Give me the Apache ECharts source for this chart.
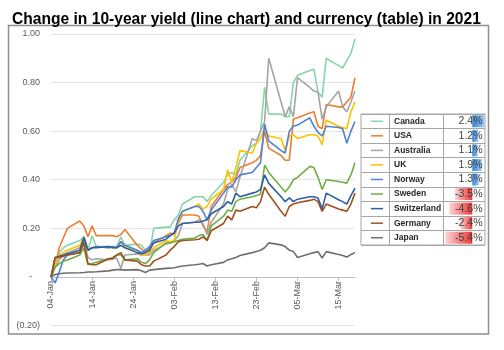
<!DOCTYPE html>
<html>
<head>
<meta charset="utf-8">
<script src="https://cdn.jsdelivr.net/npm/echarts@6/dist/echarts.min.js"></script>
<style>
html, body { margin: 0; padding: 0; background: #fff; }
#chart { width: 504px; height: 350px; }
</style>
</head>
<body>
<div id="chart"></div>
<script>
// business days, 04-Jan to 19-Mar 2021
const dates = [
  "2021-01-04", "2021-01-05", "2021-01-06", "2021-01-07", "2021-01-08",
  "2021-01-11", "2021-01-12", "2021-01-13", "2021-01-14", "2021-01-15",
  "2021-01-18", "2021-01-19", "2021-01-20", "2021-01-21", "2021-01-22",
  "2021-01-25", "2021-01-26", "2021-01-27", "2021-01-28", "2021-01-29",
  "2021-02-01", "2021-02-02", "2021-02-03", "2021-02-04", "2021-02-05",
  "2021-02-08", "2021-02-09", "2021-02-10", "2021-02-11", "2021-02-12",
  "2021-02-15", "2021-02-16", "2021-02-17", "2021-02-18", "2021-02-19",
  "2021-02-22", "2021-02-23", "2021-02-24", "2021-02-25", "2021-02-26",
  "2021-03-01", "2021-03-02", "2021-03-03", "2021-03-04", "2021-03-05",
  "2021-03-08", "2021-03-09", "2021-03-10", "2021-03-11", "2021-03-12",
  "2021-03-15", "2021-03-16", "2021-03-17", "2021-03-18", "2021-03-19"
];

// change in 10-year yield since 04-Jan
const canada = [
  0, 0.05, 0.10, 0.12, 0.13, 0.15, 0.165, 0.11, 0.17, 0.125,
  0.125, 0.125, 0.125, 0.165, 0.13, 0.135, 0.13, 0.11, 0.10, 0.20,
  0.205, 0.205, 0.235, 0.255, 0.30, 0.33, 0.33, 0.33, 0.31, 0.335,
  0.39, 0.42, 0.43, 0.42, 0.48, 0.54, 0.55, 0.60, 0.78, 0.67,
  0.67, 0.66, 0.66, 0.80, 0.83, 0.85, 0.855, 0.76, 0.74, 0.90,
  0.87, 0.86, 0.89, 0.92, 0.98
];
const usa = [
  0, 0.04, 0.12, 0.16, 0.20, 0.23, 0.21, 0.165, 0.21, 0.17,
  0.17, 0.17, 0.165, 0.175, 0.195, 0.13, 0.115, 0.10, 0.12, 0.14,
  0.17, 0.18, 0.18, 0.22, 0.255, 0.255, 0.25, 0.21, 0.185, 0.29,
  0.36, 0.38, 0.39, 0.41, 0.45, 0.47, 0.48, 0.50, 0.60, 0.53,
  0.50, 0.48, 0.48, 0.65, 0.655, 0.675, 0.68, 0.62, 0.61, 0.71,
  0.70, 0.70, 0.72, 0.74, 0.82
];
const australia = [
  0, 0.04, 0.07, 0.09, 0.10, 0.12, 0.15, 0.08, 0.07, 0.075,
  0.07, 0.075, 0.077, 0.035, 0.09, 0.095, 0.09, 0.09, 0.09, 0.11,
  0.135, 0.14, 0.15, 0.17, 0.22, 0.225, 0.235, 0.22, 0.175, 0.225,
  0.30, 0.36, 0.38, 0.35, 0.41, 0.57, 0.56, 0.60, 0.64, 0.90,
  0.72, 0.66, 0.70, 0.66, 0.82, 0.78, 0.765, 0.76, 0.65, 0.70,
  0.765, 0.70, 0.68, 0.72, 0.765
];
const uk = [
  0, 0.05, 0.09, 0.10, 0.11, 0.13, 0.165, 0.11, 0.12, 0.125,
  0.12, 0.12, 0.12, 0.145, 0.12, 0.11, 0.09, 0.09, 0.10, 0.12,
  0.15, 0.145, 0.15, 0.23, 0.27, 0.29, 0.30, 0.28, 0.29, 0.32,
  0.36, 0.44, 0.39, 0.45, 0.52, 0.51, 0.55, 0.57, 0.61, 0.58,
  0.57, 0.52, 0.58, 0.585, 0.57, 0.585, 0.585, 0.58, 0.545, 0.645,
  0.62, 0.615, 0.61, 0.68, 0.72
];
const norway = [
  0, -0.025, 0.02, 0.07, 0.09, 0.10, 0.165, 0.11, 0.12, 0.125,
  0.12, 0.125, 0.12, 0.145, 0.13, 0.11, 0.10, 0.11, 0.125, 0.15,
  0.165, 0.17, 0.18, 0.24, 0.27, 0.29, 0.29, 0.27, 0.235, 0.275,
  0.345, 0.37, 0.37, 0.40, 0.42, 0.43, 0.45, 0.47, 0.63, 0.56,
  0.52, 0.51, 0.60, 0.62, 0.625, 0.655, 0.62, 0.595, 0.58, 0.62,
  0.615, 0.61, 0.55, 0.60, 0.64
];
const sweden = [
  0, 0.04, 0.055, 0.065, 0.07, 0.09, 0.12, 0.05, 0.055, 0.06,
  0.075, 0.08, 0.09, 0.09, 0.07, 0.075, 0.06, 0.055, 0.07, 0.10,
  0.14, 0.14, 0.145, 0.15, 0.155, 0.16, 0.17, 0.175, 0.15, 0.21,
  0.25, 0.275, 0.27, 0.31, 0.32, 0.33, 0.335, 0.34, 0.46, 0.43,
  0.37, 0.35, 0.37, 0.40, 0.41, 0.455, 0.45, 0.41, 0.36, 0.40,
  0.393, 0.39, 0.386, 0.42, 0.47
];
const switzerland = [
  0, 0.08, 0.085, 0.09, 0.095, 0.11, 0.16, 0.11, 0.12, 0.12,
  0.125, 0.12, 0.12, 0.13, 0.12, 0.10, 0.095, 0.10, 0.11, 0.14,
  0.155, 0.17, 0.18, 0.21, 0.22, 0.225, 0.225, 0.23, 0.235, 0.26,
  0.29, 0.31, 0.30, 0.345, 0.33, 0.345, 0.35, 0.36, 0.42, 0.385,
  0.33, 0.31, 0.325, 0.31, 0.32, 0.33, 0.33, 0.325, 0.28, 0.345,
  0.318, 0.31, 0.30, 0.335, 0.365
];
const germany = [
  0, 0.08, 0.08, 0.085, 0.09, 0.10, 0.14, 0.055, 0.05, 0.05,
  0.075, 0.075, 0.09, 0.10, 0.07, 0.065, 0.05, 0.045, 0.045, 0.065,
  0.09, 0.11, 0.125, 0.145, 0.15, 0.153, 0.155, 0.165, 0.15, 0.19,
  0.22, 0.25, 0.235, 0.275, 0.27, 0.29, 0.285, 0.31, 0.37, 0.34,
  0.27, 0.25, 0.29, 0.30, 0.305, 0.315, 0.32, 0.31, 0.27, 0.30,
  0.28, 0.275, 0.27, 0.30, 0.345
];
const japan = [
  0, 0.01, 0.013, 0.015, 0.016, 0.017, 0.018, 0.02, 0.02, 0.021,
  0.025, 0.028, 0.03, 0.03, 0.028, 0.03, 0.025, 0.018, 0.028, 0.03,
  0.035, 0.036, 0.038, 0.042, 0.045, 0.05, 0.052, 0.055, 0.045, 0.05,
  0.06, 0.07, 0.075, 0.08, 0.088, 0.10, 0.105, 0.11, 0.12, 0.14,
  0.132, 0.125, 0.11, 0.105, 0.08, 0.095, 0.10, 0.104, 0.078, 0.104,
  0.092, 0.088, 0.082, 0.092, 0.10
];

const countries = ["Canada", "USA", "Australia", "UK", "Norway", "Sweden", "Switzerland", "Germany", "Japan"];
const yields = [canada, usa, australia, uk, norway, sweden, switzerland, germany, japan];
// currency change, %
const currency = [2.4, 1.2, 1.1, 1.9, 1.3, -3.5, -4.6, -2.4, -5.4];

const colors = ["#86d6a8", "#ed7d31", "#a5a5a5", "#ffc000", "#4f81d6", "#70ad47", "#2f5f9e", "#a0501e", "#6e6e6e"];
const FONT = '"Liberation Sans", Arial, sans-serif';
const MONTHS = ["Jan", "Feb", "Mar", "Apr"];
const DAY = 86400000;
const start = Date.parse(dates[0]);

const Y_MIN = -0.2;
const Y_MAX = 1.0;
const GRID_TOP = 34;
const GRID_BOTTOM = 24.5;
const GRID_H = 350 - GRID_TOP - GRID_BOTTOM;

const dayOf = d => (Date.parse(d) - start) / DAY;
const dateLabel = v => {
  const d = new Date(start + v * DAY);
  return String(d.getUTCDate()).padStart(2, "0") + "-" + MONTHS[d.getUTCMonth()];
};
const yLabel = v => {
  if (Math.abs(v) < 1e-9) return "{z|-}";
  if (v < 0) return "(" + Math.abs(v).toFixed(2) + ")";
  return v.toFixed(2);
};

const lineSeries = countries.map((name, i) => ({
  type: "line",
  name,
  xAxisIndex: 0,
  yAxisIndex: 0,
  data: dates.map((d, j) => [dayOf(d), yields[i][j]]),
  showSymbol: false,
  lineStyle: { width: 1.6, color: colors[i] },
  itemStyle: { color: colors[i] },
  z: 2
}));

const barColor = p =>
  p.value >= 0
    ? new echarts.graphic.LinearGradient(0, 0, 1, 0, [
        { offset: 0, color: "#2f86dd" },
        { offset: 1, color: "#9cc8f2" }
      ])
    : new echarts.graphic.LinearGradient(0, 0, 1, 0, [
        { offset: 0, color: "#fcd6d6" },
        { offset: 1, color: "#ee3535" }
      ]);

const tableRows = {
  type: "custom",
  xAxisIndex: 1,
  yAxisIndex: 1,
  z: 5,
  silent: true,
  data: countries.map((c, i) => [currency[i], i]),
  renderItem: (params, api) => {
    const i = api.value(1);
    const cs = params.coordSys;
    const cy = api.coord([0, i])[1];
    const h = api.size([0, 1])[1];
    const x0 = cs.x;
    return {
      type: "group",
      children: [
        { type: "line", shape: { x1: x0 + 10, y1: cy, x2: x0 + 22, y2: cy }, style: { stroke: colors[i], lineWidth: 1.5 } },
        { type: "line", shape: { x1: x0 + 28.5, y1: cy - h / 2, x2: x0 + 28.5, y2: cy + h / 2 }, style: { stroke: "#a6a6a6", lineWidth: 1 } },
        { type: "line", shape: { x1: x0 + 82.5, y1: cy - h / 2, x2: x0 + 82.5, y2: cy + h / 2 }, style: { stroke: "#a6a6a6", lineWidth: 1 } },
        {
          type: "text",
          style: { text: countries[i], x: x0 + 33, y: cy, verticalAlign: "middle", fontFamily: FONT, fontWeight: "bold", fontSize: 8.5, fill: "#262626" }
        },
        {
          type: "text",
          style: { text: api.value(0).toFixed(1) + "%", x: x0 + cs.width - 2.5, y: cy, align: "right", verticalAlign: "middle", fontFamily: FONT, fontSize: 10.5, fill: "#404040" }
        }
      ]
    };
  }
};

const chart = echarts.init(document.getElementById("chart"));
chart.setOption({
  animation: false,
  backgroundColor: "#fff",
  title: {
    text: "Change in 10-year yield (line chart) and currency (table) in 2021",
    left: 7,
    top: 6,
    textStyle: { fontFamily: FONT, fontSize: 15.6, fontWeight: "bold", color: "#000", lineHeight: 18 }
  },
  graphic: [
    {
      type: "rect",
      shape: { x: 8.5, y: 25.5, width: 480, height: 308.5 },
      style: { fill: "none", stroke: "#8f8f8f", lineWidth: 1.5 },
      silent: true,
      z: 0
    }
  ],
  grid: [
    { left: 51, right: 149, top: GRID_TOP, bottom: GRID_BOTTOM, containLabel: false, outerBoundsMode: "none" },
    { left: 361, width: 124, top: 114, height: 131, show: true, borderColor: "#a6a6a6", borderWidth: 1, backgroundColor: "transparent", containLabel: false, outerBoundsMode: "none" }
  ],
  xAxis: [
    {
      type: "value",
      gridIndex: 0,
      min: 0,
      max: dayOf(dates[dates.length - 1]),
      interval: 10,
      // the date axis sits on the zero line, labels included
      offset: -GRID_H * (0 - Y_MIN) / (Y_MAX - Y_MIN),
      axisLine: { onZero: false, lineStyle: { color: "#bfbfbf" } },
      axisTick: { show: true, length: 4, lineStyle: { color: "#bfbfbf" } },
      axisLabel: { rotate: 90, formatter: dateLabel, fontFamily: FONT, fontSize: 9, color: "#595959", margin: 4, showMaxLabel: false },
      splitLine: { show: false }
    },
    {
      type: "value",
      gridIndex: 1,
      min: -22.3,
      max: 2.55,
      show: false
    }
  ],
  yAxis: [
    {
      type: "value",
      gridIndex: 0,
      min: Y_MIN,
      max: Y_MAX,
      interval: 0.2,
      axisLine: { show: false },
      axisTick: { show: false },
      axisLabel: {
        formatter: yLabel,
        fontFamily: FONT,
        fontSize: 9,
        color: "#595959",
        margin: 11,
        rich: { z: { fontFamily: FONT, fontSize: 9, color: "#595959", padding: [0, 8, 0, 0] } }
      },
      splitLine: { lineStyle: { color: "#e4e4e4", width: 1 } }
    },
    {
      type: "category",
      gridIndex: 1,
      data: countries,
      inverse: true,
      axisLine: { show: false },
      axisTick: { show: false },
      axisLabel: { show: false, interval: 0 },
      splitLine: { show: true, interval: 0, lineStyle: { color: "#a6a6a6", width: 1 } }
    }
  ],
  series: [
    ...lineSeries,
    {
      type: "bar",
      xAxisIndex: 1,
      yAxisIndex: 1,
      data: currency,
      barWidth: 12,
      silent: true,
      itemStyle: { color: barColor },
      z: 3
    },
    tableRows
  ]
});
</script>
</body>
</html>
